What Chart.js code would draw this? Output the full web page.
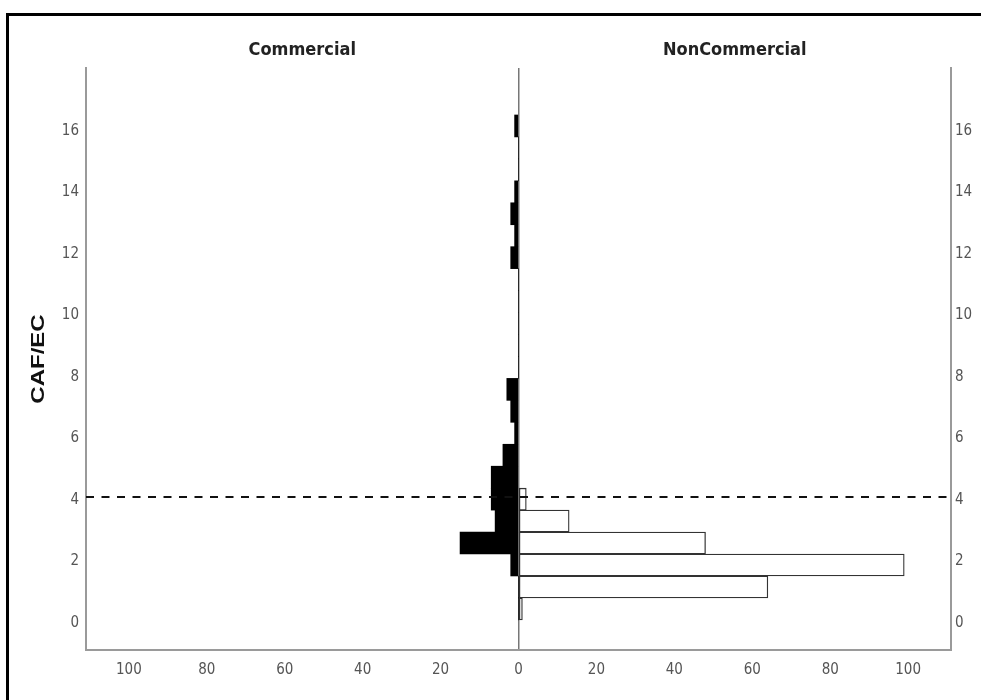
<!DOCTYPE html>
<html>
<head>
<meta charset="utf-8">
<title>CAF/EC by group</title>
<script src="https://cdn.jsdelivr.net/npm/chart.js@4.4.1/dist/chart.umd.min.js"></script>
<style>
  html, body { margin: 0; padding: 0; background: #fff; overflow: hidden; }
  #frame { position: absolute; left: 6px; top: 13px; width: 1000px; height: 800px; border: 3px solid #000; }
  #chart { position: absolute; left: 0; top: 0; }
</style>
</head>
<body>
<div id="frame"></div>
<canvas id="chart" width="981" height="700"></canvas>
<script>
// histogram bins of CAF/EC (bin centres) and counts per group
const binCenters = [0.457, 1.171, 1.885, 2.599, 3.313, 4.027, 4.741, 5.455, 6.169, 6.883, 7.597, 8.311,
                    9.025, 9.739, 10.453, 11.167, 11.881, 12.595, 13.309, 14.023, 14.737, 15.451, 16.165];
const commercialCounts = [0, 0, 2, 15, 6, 7, 7, 4, 1, 2, 3, 0, 0, 0, 0, 0, 2, 1, 2, 1, 0, 0, 1];
const nonCommercialCounts = [1, 64, 99, 48, 13, 2, 0, 0, 0, 0, 0, 0, 0, 0, 0, 0, 0, 0, 0, 0, 0, 0, 0];
const groupNames = ['Commercial', 'NonCommercial'];
const countTicks = [-100, -80, -60, -40, -20, 0, 20, 40, 60, 80, 100];
const cafTicks = [0, 2, 4, 6, 8, 10, 12, 14, 16];
const cutoff = 4.1;

const narrow = '"Liberation Sans Narrow", "Arial Narrow", "DejaVu Sans Condensed", sans-serif';
const axisGray = '#9a9a9a';

// dashed reference line across both panels
const cutoffLine = {
    id: 'cutoffLine',
    afterDatasetsDraw(chart) {
        const { ctx, chartArea, scales } = chart;
        const y = scales.y.getPixelForValue(cutoff);
        ctx.save();
        ctx.strokeStyle = '#111';
        ctx.lineWidth = 2;
        ctx.setLineDash([8, 7.5]);
        ctx.beginPath();
        ctx.moveTo(chartArea.left, y);
        ctx.lineTo(chartArea.right, y);
        ctx.stroke();
        ctx.restore();
    }
};

// vertical axis title, a bit condensed
const sideTitle = {
    id: 'sideTitle',
    afterDraw(chart) {
        const { ctx, chartArea } = chart;
        ctx.save();
        ctx.translate(39, (chartArea.top + chartArea.bottom) / 2);
        ctx.rotate(-Math.PI / 2);
        ctx.scale(1, 0.8);
        ctx.font = 'bold 24px "Liberation Sans", Arial, sans-serif';
        ctx.fillStyle = '#111';
        ctx.textAlign = 'center';
        ctx.textBaseline = 'middle';
        ctx.fillText('CAF/EC', 0, 0);
        ctx.restore();
    }
};

const setTicks = (values) => (scale) => { scale.ticks = values.map(v => ({ value: v })); };

new Chart(document.getElementById('chart'), {
    type: 'bar',
    data: {
        labels: binCenters,
        datasets: [{
            label: groupNames[0],
            data: commercialCounts.map(v => -v),
            backgroundColor: '#000',
            borderWidth: 0,
            grouped: false,
            barPercentage: 1,
            categoryPercentage: 1
        }, {
            label: groupNames[1],
            data: nonCommercialCounts,
            backgroundColor: '#fff',
            borderColor: '#333',
            borderWidth: 1.3,
            borderSkipped: false,
            grouped: false,
            barPercentage: 1,
            categoryPercentage: 1
        }]
    },
    options: {
        indexAxis: 'y',
        responsive: false,
        animation: false,
        devicePixelRatio: 1,
        layout: { padding: 0 },
        plugins: {
            legend: { display: false },
            tooltip: { enabled: false }
        },
        scales: {
            x: {
                type: 'linear',
                position: 'bottom',
                min: -111,
                max: 111,
                afterBuildTicks: setTicks(countTicks),
                afterFit: (s) => { s.height = 50; },
                grid: {
                    drawTicks: false,
                    lineWidth: 1.5,
                    color: (c) => (c.tick && c.tick.value === 0 ? '#777' : 'rgba(0,0,0,0)')
                },
                border: { display: true, color: axisGray, width: 2 },
                ticks: {
                    padding: 11,
                    color: '#555',
                    font: { family: narrow, size: 15 },
                    callback: (v) => Math.abs(v)
                }
            },
            x2: {
                type: 'category',
                axis: 'x',
                position: 'top',
                labels: groupNames,
                offset: true,
                afterFit: (s) => { s.height = 68; },
                grid: { display: false, drawTicks: false },
                border: { display: false },
                ticks: {
                    padding: 7,
                    color: '#222',
                    font: { family: narrow, size: 18, weight: 'bold' }
                }
            },
            y: {
                type: 'linear',
                position: 'left',
                offset: false,
                min: -0.88,
                max: 18.05,
                afterBuildTicks: setTicks(cafTicks),
                afterFit: (s) => { s.width = 86; },
                grid: { display: false, drawTicks: false, offset: false },
                border: { display: true, color: axisGray, width: 2 },
                ticks: {
                    padding: 7,
                    color: '#555',
                    font: { family: narrow, size: 15 }
                }
            },
            y2: {
                type: 'linear',
                position: 'right',
                offset: false,
                min: -0.88,
                max: 18.05,
                afterBuildTicks: setTicks(cafTicks),
                afterFit: (s) => { s.width = 30; },
                grid: { display: false, drawTicks: false, offset: false },
                border: { display: true, color: axisGray, width: 2 },
                ticks: {
                    padding: 4,
                    color: '#555',
                    font: { family: narrow, size: 15 }
                }
            }
        }
    },
    plugins: [cutoffLine, sideTitle]
});
</script>
</body>
</html>
